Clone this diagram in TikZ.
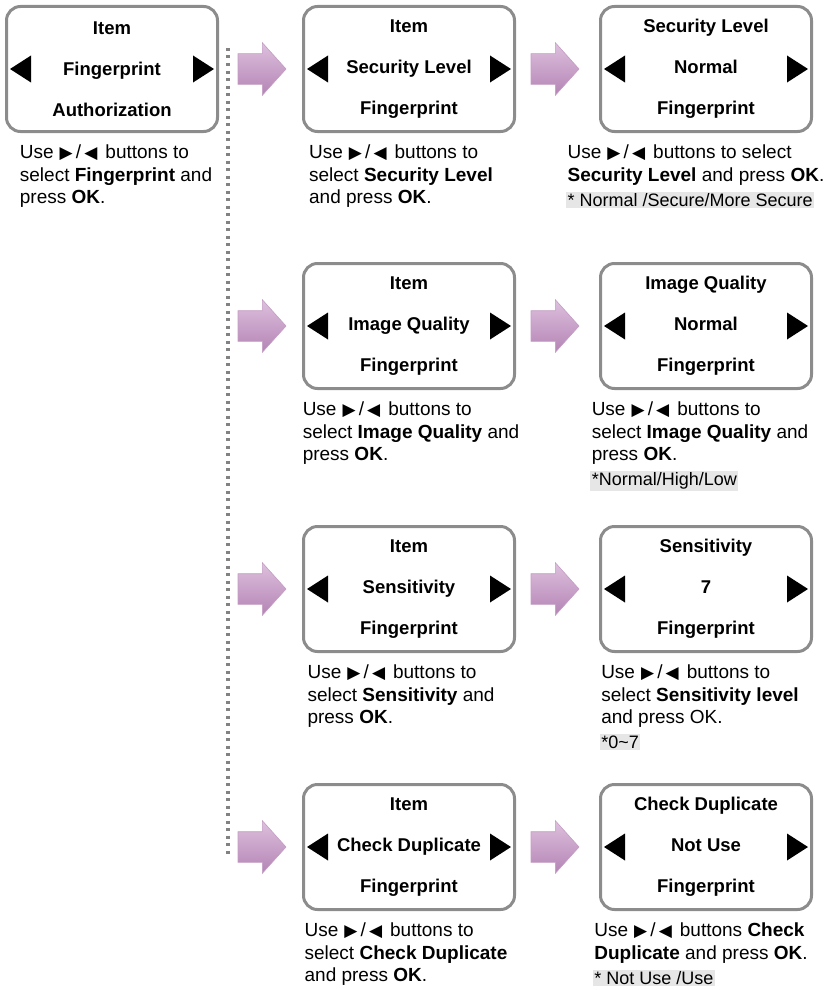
\documentclass[tikz,border=0pt]{standalone}
\usepackage{fontspec}
\setmainfont{Liberation Sans}
\newfontfamily\symfont{DejaVu Sans}
\usetikzlibrary{positioning, shapes.arrows}
\definecolor{framegray}{RGB}{140,140,140}
\definecolor{dotgray}{RGB}{130,130,130}
\definecolor{notegray}{RGB}{230,230,230}
\definecolor{arrtop}{RGB}{222,192,222}
\definecolor{arrbot}{RGB}{180,132,180}
\newcommand{\btn}{\hspace{6pt}{\symfont\fontsize{17}{17}\selectfont ▶}\,/\,{\symfont\fontsize{17}{17}\selectfont ◀}\hspace{8pt}}
\newcommand{\kw}[1]{\textbf{#1}}

\begin{document}
\begin{tikzpicture}[x=1pt, y=-1pt,
    screen/.style={draw=framegray, line width=3pt, rounded corners=14pt,
                   minimum width=211pt, minimum height=125pt, inner sep=0pt,
                   align=center, font=\fontsize{18.5}{41}\selectfont\bfseries,
                   path picture={
                     \fill[black, sharp corners] ([xshift=3.5pt]path picture bounding box.west)
                        -- ++(21pt,13.5pt) -- ++(0pt,-27pt) -- cycle;
                     \fill[black, sharp corners] ([xshift=-3.5pt]path picture bounding box.east)
                        -- ++(-21pt,13.5pt) -- ++(0pt,-27pt) -- cycle;}},
    hint/.style={inner sep=0pt, align=left, font=\fontsize{19}{22.5}\selectfont},
    note/.style={fill=notegray, inner sep=1.5pt, anchor=north west,
                 font=\fontsize{18}{20}\selectfont},
    blockarr/.style={single arrow, top color=arrtop, bottom color=arrbot,
                     draw=arrbot!80, line width=0.6pt, inner sep=0pt, outer sep=0pt,
                     text height=15pt, text depth=15pt,
                     minimum height=48pt, minimum width=52pt,
                     single arrow head extend=11pt, single arrow tip angle=96},
    dotline/.style={dotgray, line width=3.2pt, dash pattern=on 3pt off 4.5pt}
]
\useasboundingbox (0,0) rectangle (830,990);

% screens
\node[screen, anchor=north west] (b11) at (5,5) {Item\\Fingerprint\\Authorization};
\node[screen, right=83pt of b11] (b12) {Item\\Security Level\\Fingerprint};
\node[screen, right=83pt of b12] (b13) {Security Level\\Normal\\Fingerprint};
\node[screen, below=129pt of b12] (b22) {Item\\Image Quality\\Fingerprint};
\node[screen, right=83pt of b22] (b23) {Image Quality\\Normal\\Fingerprint};
\node[screen, below=135pt of b22] (b32) {Item\\Sensitivity\\Fingerprint};
\node[screen, right=83pt of b32] (b33) {Sensitivity\\7\\Fingerprint};
\node[screen, below=130pt of b32] (b42) {Item\\Check Duplicate\\Fingerprint};
\node[screen, right=83pt of b42] (b43) {Check Duplicate\\Not Use\\Fingerprint};

% hints under the screens
\node[hint, below=12pt of b11, xshift=4pt] (h11) {Use\btn buttons to\\select \kw{Fingerprint} and\\press \kw{OK}.};
\node[hint, below=12pt of b12, xshift=-8pt] (h12) {Use\btn buttons to\\select \kw{Security Level}\\and press \kw{OK}.};
\node[hint, below=12pt of b13, xshift=-10pt] (h13) {Use\btn buttons to select\\\kw{Security Level} and press \kw{OK}.};
\node[hint, below=12pt of b22, xshift=2pt] (h22) {Use\btn buttons to\\select \kw{Image Quality} and\\press \kw{OK}.};
\node[hint, below=12pt of b23, xshift=-6pt] (h23) {Use\btn buttons to\\select \kw{Image Quality} and\\press \kw{OK}.};
\node[hint, below=12pt of b32, xshift=-8pt] (h32) {Use\btn buttons to\\select \kw{Sensitivity} and\\press \kw{OK}.};
\node[hint, below=12pt of b33, xshift=-6pt] (h33) {Use\btn buttons to\\select \kw{Sensitivity level}\\and press OK.};
\node[hint, below=12pt of b42, xshift=-3pt] (h42) {Use\btn buttons to\\select \kw{Check Duplicate}\\and press \kw{OK}.};
\node[hint, below=12pt of b43, xshift=-5pt] (h43) {Use\btn buttons \kw{Check}\\\kw{Duplicate} and press \kw{OK}.};

% value ranges
\node[note] (n13) at ([xshift=-1.5pt, yshift=-6pt]h13.south west) {* Normal /Secure/More Secure};
\node[note] (n23) at ([xshift=-1.5pt, yshift=-6pt]h23.south west) {*Normal/High/Low};
\node[note] (n33) at ([xshift=-1.5pt, yshift=-6pt]h33.south west) {*0\textasciitilde7};
\node[note] (n43) at ([xshift=-1.5pt, yshift=-6pt]h43.south west) {* Not Use /Use};

% dotted separator
\coordinate (dtop) at (228,48);
\coordinate (dbot) at (228,858);
\draw[dotline] (dtop) -- (dbot);

% block arrows
\node[blockarr, left=16pt of b12] (a12) {};
\node[blockarr, left=20pt of b13] (a13) {};
\node[blockarr, left=16pt of b22] (a22) {};
\node[blockarr, left=20pt of b23] (a23) {};
\node[blockarr, left=16pt of b32] (a32) {};
\node[blockarr, left=20pt of b33] (a33) {};
\node[blockarr, left=16pt of b42] (a42) {};
\node[blockarr, left=20pt of b43] (a43) {};
\end{tikzpicture}
\end{document}
